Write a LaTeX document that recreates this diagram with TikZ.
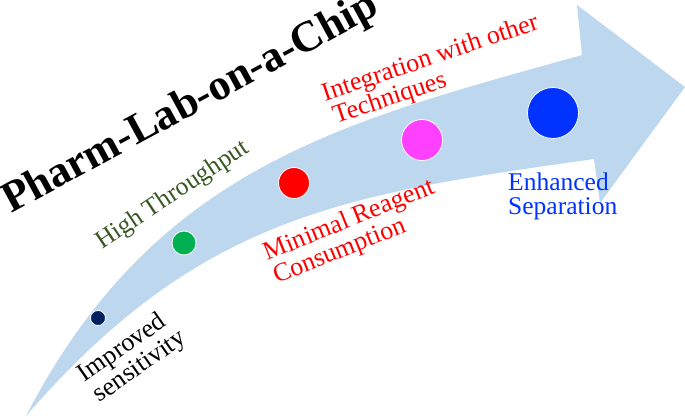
\documentclass[tikz,border=0pt]{standalone}
\usepackage{fontspec}
\setmainfont{Liberation Serif}
\definecolor{band}{HTML}{BDD7EE}
\definecolor{navydot}{HTML}{002060}
\definecolor{greendot}{HTML}{00B050}
\definecolor{reddot}{HTML}{FF0000}
\definecolor{magdot}{HTML}{FF40FF}
\definecolor{bluedot}{HTML}{0033FF}
\definecolor{darkgreen}{HTML}{385723}
\begin{document}
\begin{tikzpicture}[x=1pt,y=-1pt,
  lbl/.style={anchor=base west, inner sep=0pt, align=left, font=\fontsize{25.5}{24.5}\selectfont},
  biglbl/.style={lbl, font=\fontsize{26}{25}\selectfont},
  dot/.style={circle, draw=white, line width=0.8pt, inner sep=0pt}]
\useasboundingbox (0,0) rectangle (685,417);
% curved arrow
\fill[band] (26,416) .. controls (155,167) and (342,122) .. (582,55) -- (577,5) -- (685,87) -- (600,203) -- (594,159) .. controls (346,194) and (200,215) .. (26,416) -- cycle;
% dots
\node[dot, fill=navydot, minimum size=15pt] (d1) at (98,318) {};
\node[dot, fill=greendot, minimum size=24pt] (d2) at (184,243) {};
\node[dot, fill=reddot, minimum size=31pt] (d3) at (294,183) {};
\node[dot, fill=magdot, minimum size=41pt] (d4) at (422,140) {};
\node[dot, fill=bluedot, minimum size=51pt] (d5) at (553,113) {};
% title
\node[lbl, rotate=28.5, font=\bfseries\fontsize{43.5}{43.5}\selectfont] (title) at (11,214) {Pharm-Lab-on-a-Chip};
% labels (anchor = start of last line)
\node[biglbl, rotate=35] (imp) at (99,403.5) {Improved\\\hspace*{1pt}sensitivity};
\node[lbl, rotate=33.6, text=darkgreen] (high) at (102,250) {High Throughput};
\node[biglbl, rotate=22, text=reddot] (min) at (277,284) {Minimal Reagent\\Consumption};
\node[biglbl, rotate=18.7, text=reddot] (int) at (333,125) {Integration with other\\\hspace*{3pt}Techniques};
\node[lbl, text=bluedot] (enh) at (508,214.5) {Enhanced\\Separation};
\end{tikzpicture}
\end{document}
